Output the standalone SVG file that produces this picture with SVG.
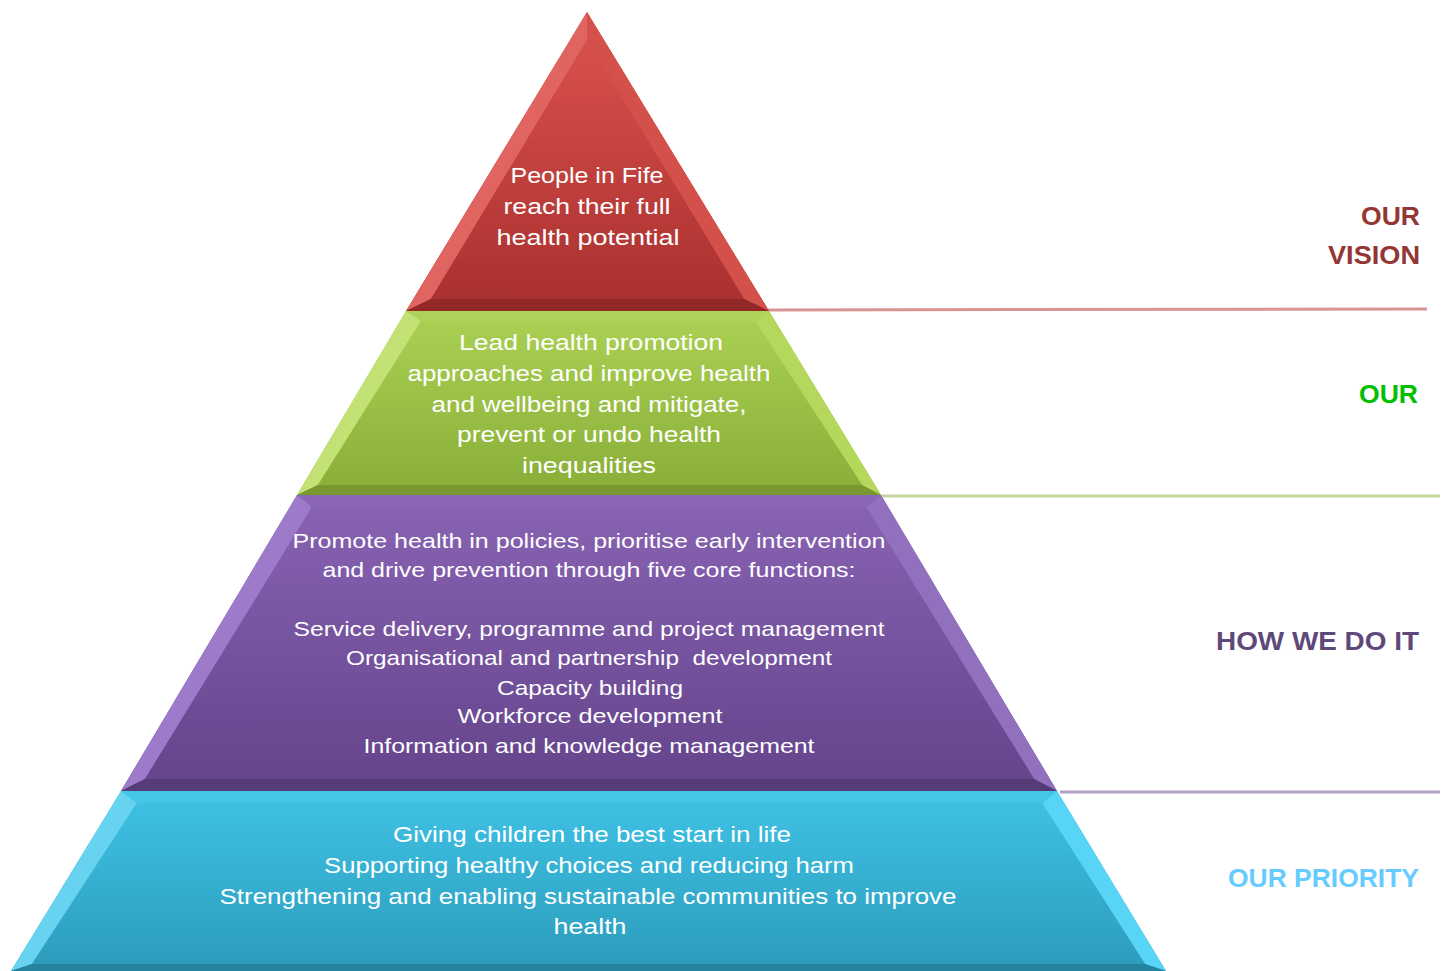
<svg xmlns="http://www.w3.org/2000/svg" width="1445" height="971" viewBox="0 0 1445 971">
<defs>
<linearGradient id="gRed" x1="0" y1="0" x2="0" y2="1"><stop offset="0" stop-color="#d9504b"/><stop offset="1" stop-color="#a93130"/></linearGradient>
<linearGradient id="gGreen" x1="0" y1="0" x2="0" y2="1"><stop offset="0" stop-color="#a9cf52"/><stop offset="1" stop-color="#8bb03a"/></linearGradient>
<linearGradient id="gPurple" x1="0" y1="0" x2="0" y2="1"><stop offset="0" stop-color="#8762b2"/><stop offset="1" stop-color="#65458c"/></linearGradient>
<linearGradient id="gCyan" x1="0" y1="0" x2="0" y2="1"><stop offset="0" stop-color="#3ec0e3"/><stop offset="1" stop-color="#2d9dbd"/></linearGradient>
</defs>
<style>
.t{font-family:"Liberation Sans",Arial,sans-serif;font-size:22px;fill:#ffffff;text-anchor:middle}
.tp{font-family:"Liberation Sans",Arial,sans-serif;font-size:21px;fill:#ffffff;text-anchor:middle}
.lab{font-family:"Liberation Sans",Arial,sans-serif;font-size:25px;font-weight:bold;text-anchor:end}
</style>
<rect width="1445" height="971" fill="#ffffff"/>
<g id="connectors">
<line x1="768" y1="310" x2="1427" y2="309" stroke="#d99594" stroke-width="3"/>
<line x1="882" y1="496" x2="1440" y2="496" stroke="#c3d69b" stroke-width="3"/>
<line x1="1060" y1="792" x2="1440" y2="792" stroke="#b2a1c7" stroke-width="3"/>
</g>
<g id="tier-vision">
<polygon points="587,12 769,311 406,311" fill="url(#gRed)"/>
<polygon points="587,12 406,311 431,299 587,40" fill="#e0645f"/>
<polygon points="587,12 769,311 744,299 587,40" fill="#d4504b"/>
<polygon points="406,311 769,311 744,299 431,299" fill="#932927"/>
<polygon points="587,40 744,299 431,299" fill="url(#gRed)"/>
<text class="t" x="587" y="183" textLength="153" lengthAdjust="spacingAndGlyphs">People in Fife</text>
<text class="t" x="587" y="214" textLength="167" lengthAdjust="spacingAndGlyphs">reach their full</text>
<text class="t" x="588" y="245" textLength="183" lengthAdjust="spacingAndGlyphs">health potential</text>
</g>
<g id="tier-our">
<polygon points="406,311 769,311 881,495 297,495" fill="url(#gGreen)"/>
<polygon points="406,311 297,495 318,485 421,321" fill="#c3e275"/>
<polygon points="769,311 881,495 862,485 755,321" fill="#b3d85c"/>
<polygon points="297,495 881,495 862,485 318,485" fill="#78972f"/>
<polygon points="406,311 769,311 755,321 421,321" fill="#afd35a"/>
<polygon points="421,321 755,321 862,485 318,485" fill="url(#gGreen)"/>
<text class="t" x="591" y="350" textLength="264" lengthAdjust="spacingAndGlyphs">Lead health promotion</text>
<text class="t" x="589" y="381" textLength="363" lengthAdjust="spacingAndGlyphs">approaches and improve health</text>
<text class="t" x="589" y="412" textLength="315" lengthAdjust="spacingAndGlyphs">and wellbeing and mitigate,</text>
<text class="t" x="589" y="442" textLength="264" lengthAdjust="spacingAndGlyphs">prevent or undo health</text>
<text class="t" x="589" y="473" textLength="134" lengthAdjust="spacingAndGlyphs">inequalities</text>
</g>
<g id="tier-how">
<polygon points="297,495 881,495 1057,791 121,791" fill="url(#gPurple)"/>
<polygon points="297,495 121,791 145,779 312,507" fill="#9e7bca"/>
<polygon points="881,495 1057,791 1034,779 866,507" fill="#9170bd"/>
<polygon points="121,791 1057,791 1034,779 145,779" fill="#563b79"/>
<polygon points="297,495 881,495 866,507 312,507" fill="#8a66b4"/>
<polygon points="312,507 866,507 1034,779 145,779" fill="url(#gPurple)"/>
<text class="tp" x="589" y="548" textLength="593" lengthAdjust="spacingAndGlyphs">Promote health in policies, prioritise early intervention</text>
<text class="tp" x="589" y="577" textLength="533" lengthAdjust="spacingAndGlyphs">and drive prevention through five core functions:</text>
<text class="tp" x="589" y="636" textLength="591" lengthAdjust="spacingAndGlyphs">Service delivery, programme and project management</text>
<text class="tp" x="589" y="665" textLength="486" lengthAdjust="spacingAndGlyphs" xml:space="preserve">Organisational and partnership  development</text>
<text class="tp" x="590" y="695" textLength="186" lengthAdjust="spacingAndGlyphs">Capacity building</text>
<text class="tp" x="590" y="723" textLength="265" lengthAdjust="spacingAndGlyphs">Workforce development</text>
<text class="tp" x="589" y="753" textLength="451" lengthAdjust="spacingAndGlyphs">Information and knowledge management</text>
</g>
<g id="tier-priority">
<polygon points="121,791 1057,791 1166,971 11,971" fill="url(#gCyan)"/>
<polygon points="121,791 11,971 32,964 137,803" fill="#67d3f1"/>
<polygon points="1057,791 1166,971 1145,964 1042,803" fill="#58d4f6"/>
<polygon points="11,971 1166,971 1145,964 32,964" fill="#25839f"/>
<polygon points="121,791 1057,791 1042,803 137,803" fill="#44c6e8"/>
<polygon points="137,803 1042,803 1145,964 32,964" fill="url(#gCyan)"/>
<text class="t" x="592" y="842" textLength="398" lengthAdjust="spacingAndGlyphs">Giving children the best start in life</text>
<text class="t" x="589" y="873" textLength="530" lengthAdjust="spacingAndGlyphs">Supporting healthy choices and reducing harm</text>
<text class="t" x="588" y="904" textLength="737" lengthAdjust="spacingAndGlyphs">Strengthening and enabling sustainable communities to improve</text>
<text class="t" x="590" y="934" textLength="73" lengthAdjust="spacingAndGlyphs">health</text>
</g>
<g id="labels">
<text class="lab" x="1420" y="225" fill="#943634" textLength="59" lengthAdjust="spacingAndGlyphs">OUR</text>
<text class="lab" x="1420" y="264" fill="#943634" textLength="92" lengthAdjust="spacingAndGlyphs">VISION</text>
<text class="lab" x="1418" y="403" fill="#00c000" textLength="59" lengthAdjust="spacingAndGlyphs">OUR</text>
<text class="lab" x="1419" y="650" fill="#5f497a" textLength="203" lengthAdjust="spacingAndGlyphs">HOW WE DO IT</text>
<text class="lab" x="1419" y="887" fill="#66ccff" textLength="191" lengthAdjust="spacingAndGlyphs">OUR PRIORITY</text>
</g>
</svg>
